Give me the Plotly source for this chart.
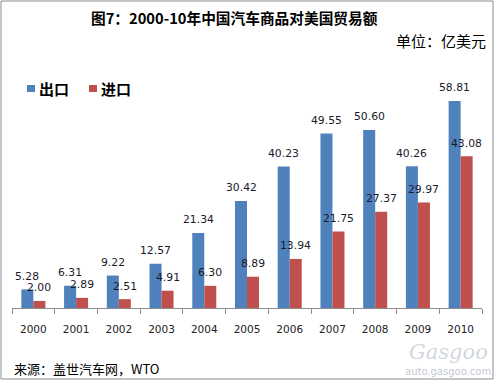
import plotly.graph_objects as go

years = ["2000", "2001", "2002", "2003", "2004", "2005", "2006", "2007", "2008", "2009", "2010"]
exports = [5.28, 6.31, 9.22, 12.57, 21.34, 30.42, 40.23, 49.55, 50.60, 40.26, 58.81]
imports = [2.00, 2.89, 2.51, 4.91, 6.30, 8.89, 13.94, 21.75, 27.37, 29.97, 43.08]
series_names = ["出口", "进口"]
colors = ["#4F81BD", "#C0504D"]

W, H = 500, 381
L, R, T, B = 12, 18, 95, 73
pw, ph = W - L - R, H - T - B

def px(x):
    return (x - L) / pw

def py(y):
    return (H - B - y) / ph

fig = go.Figure()
for name, vals, c in zip(series_names, [exports, imports], colors):
    fig.add_trace(go.Bar(x=years, y=vals, name=name, marker=dict(color=c, line=dict(width=0)),
                         showlegend=False))

annotations = []
lab_font = dict(family="DejaVu Sans", size=10.8, color="#1a1a2a")
for vals, xs in [(exports, -6), (imports, 6)]:
    for i, v in enumerate(vals):
        # category axis: position by category index
        annotations.append(dict(x=i, y=v, xref="x", yref="y", text=f"{v:.2f}", showarrow=False,
                                xshift=xs, yshift=13, yanchor="middle", font=lab_font))

# title and texts
annotations.append(dict(x=px(234), y=py(17), xref="paper", yref="paper", text="<b>图7：2000-10年中国汽车商品对美国贸易额</b>",
                        showarrow=False, xanchor="center", yanchor="middle",
                        font=dict(family="Noto Sans CJK SC", size=14.7, color="#000")))
annotations.append(dict(x=px(488), y=py(40), xref="paper", yref="paper", text="单位：亿美元",
                        showarrow=False, xanchor="right", yanchor="middle",
                        font=dict(family="Noto Sans CJK SC", size=15, color="#000")))
annotations.append(dict(x=px(12), y=py(368), xref="paper", yref="paper", text="来源：盖世汽车网，WTO",
                        showarrow=False, xanchor="left", yanchor="middle",
                        font=dict(family="Noto Sans CJK SC", size=13, color="#000")))
# legend
shapes = []
leg = [(27, 37), (89, 99)]
for (sx, tx), name, c in zip(leg, series_names, colors):
    shapes.append(dict(type="rect", xref="paper", yref="paper", x0=px(sx), x1=px(sx + 8),
                       y0=py(92), y1=py(85), fillcolor=c, line=dict(width=0)))
    annotations.append(dict(x=px(tx), y=py(88), xref="paper", yref="paper", text=f"<b>{name}</b>",
                            showarrow=False, xanchor="left", yanchor="middle",
                            font=dict(family="Noto Sans CJK SC", size=15, color="#000")))
# watermark
annotations.append(dict(x=px(490), y=py(352), xref="paper", yref="paper", text="<i>Gasgoo</i>",
                        showarrow=False, xanchor="right", yanchor="middle",
                        font=dict(family="DejaVu Serif", size=21, color="rgba(150,160,180,0.45)")))
annotations.append(dict(x=px(493), y=py(371), xref="paper", yref="paper", text="auto.gasgoo.com",
                        showarrow=False, xanchor="right", yanchor="middle",
                        font=dict(family="DejaVu Sans", size=10, color="rgba(150,160,180,0.6)")))
# border
shapes.append(dict(type="rect", xref="paper", yref="paper", x0=px(1), x1=px(493), y0=py(379), y1=py(1),
                   line=dict(color="#8c8c8c", width=1), fillcolor="rgba(0,0,0,0)", layer="below"))

fig.update_layout(
    width=W, height=H, margin=dict(l=L, r=R, t=T, b=B, autoexpand=False),
    paper_bgcolor="white", plot_bgcolor="white",
    barmode="group", bargap=0.438, bargroupgap=0,
    annotations=annotations, shapes=shapes,
    xaxis=dict(type="category", range=[-0.5, len(years) - 0.5], automargin=False, showline=True,
               linecolor="#8c8c8c", linewidth=1,
               ticks="outside", tickson="boundaries", tickangle=0,
               ticklen=5, tickcolor="#8c8c8c", ticklabelstandoff=11,
               tickfont=dict(family="DejaVu Sans", size=10.5, color="#222"), showgrid=False),
    yaxis=dict(range=[0, ph / 3.52], visible=False, showgrid=False, automargin=False),
)
fig.write_html("out.html", config={"displayModeBar": False},
               post_script="document.body.style.margin='0';")
